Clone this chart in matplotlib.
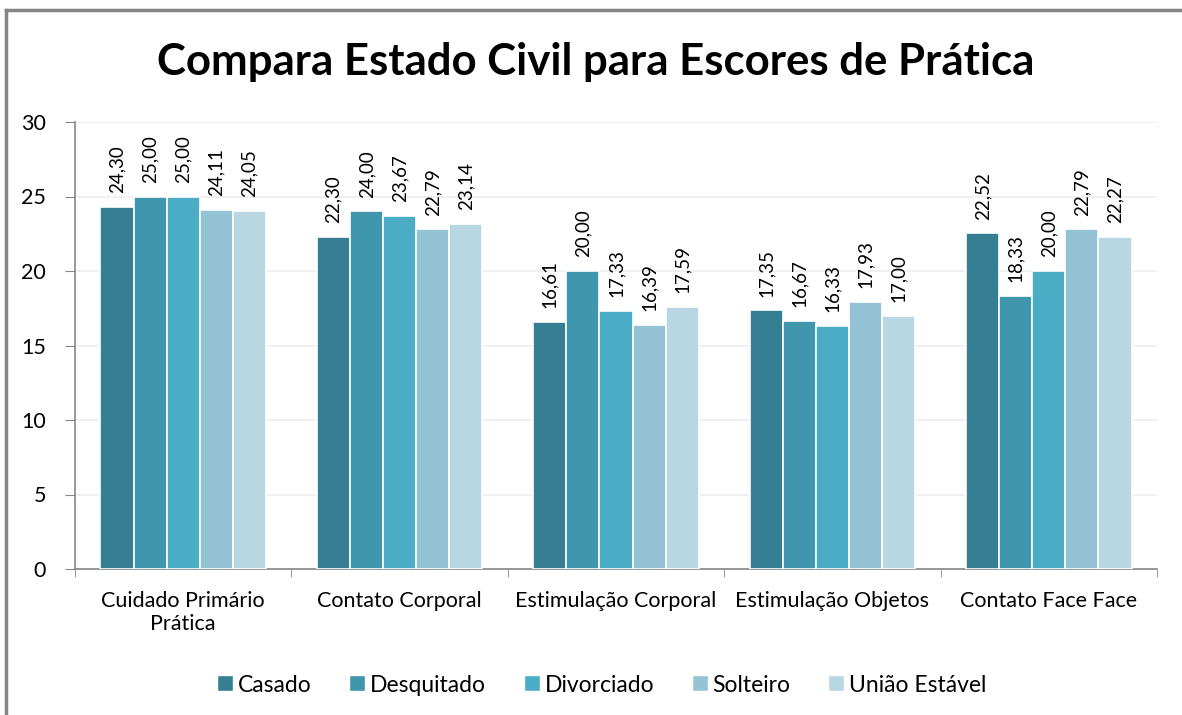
import matplotlib
matplotlib.use("Agg")
import matplotlib.pyplot as plt
import numpy as np
from matplotlib.lines import Line2D

categories = ["Cuidado Primário\nPrática", "Contato Corporal", "Estimulação Corporal",
              "Estimulação Objetos", "Contato Face Face"]
series_names = ["Casado", "Desquitado", "Divorciado", "Solteiro", "União Estável"]
casado = [24.30, 22.30, 16.61, 17.35, 22.52]
desquitado = [25.00, 24.00, 20.00, 16.67, 18.33]
divorciado = [25.00, 23.67, 17.33, 16.33, 20.00]
solteiro = [24.11, 22.79, 16.39, 17.93, 22.79]
uniao = [24.05, 23.14, 17.59, 17.00, 22.27]
colors = ["#367F93", "#4096AC", "#4BACC6", "#93C3D4", "#B8D7E2"]
title = "Compara Estado Civil para Escores de Prática"

plt.rcParams['font.family'] = ['Lato', 'DejaVu Sans']

fig = plt.figure(figsize=(11.82, 7.15), dpi=100)
ax = fig.add_axes([75/1182, 1-569/715, (1157-75)/1182, (569-122)/715])

data = [casado, desquitado, divorciado, solteiro, uniao]
x = np.arange(len(categories))
bw = 0.153
for i, (vals, name, c) in enumerate(zip(data, series_names, colors)):
    xs = x + (i - 2) * bw
    bars = ax.bar(xs, vals, width=bw, color=c, edgecolor="white", linewidth=1.2,
                  label=name, zorder=3)
    for xi, v in zip(xs, vals):
        ax.annotate(f"{v:.2f}".replace(".", ","), (xi, v), xytext=(0, 10),
                    textcoords="offset points", rotation=90, ha="center", va="bottom",
                    fontsize=13.5, color="black")

ax.set_xlim(-0.5, len(categories) - 0.5)
ax.set_ylim(0, 30)
ax.set_yticks(range(0, 31, 5))
ax.tick_params(axis="y", labelsize=15.5, length=7, color="#868686", direction="out", pad=14)
ax.grid(axis="y", color="#EDEDED", linewidth=1.2, zorder=0)
ax.set_axisbelow(True)
ax.set_xticks(x)
ax.set_xticklabels(categories, fontsize=15.5, linespacing=1.15)
ax.tick_params(axis="x", length=0, pad=16)
ax.set_xticks(np.arange(-0.5, len(categories)), minor=True)
ax.tick_params(axis="x", which="minor", length=6, color="#868686")
for s in ["top", "right"]:
    ax.spines[s].set_visible(False)
for s in ["left", "bottom"]:
    ax.spines[s].set_color("#868686")
    ax.spines[s].set_linewidth(1.2)

fig.text(596/1182, 1-62/715, title, ha="center", va="center", fontsize=31.5,
         fontweight="bold")

handles = [Line2D([], [], marker="s", linestyle="none", markersize=11,
                  markerfacecolor=c, markeredgecolor="white") for c in colors]
fig.legend(handles, series_names, loc="center", bbox_to_anchor=(600/1182, 1-685/715),
           ncol=5, frameon=False, fontsize=16.5, handletextpad=0.05, columnspacing=1.5,
           handlelength=1.0)

fig.add_artist(Line2D([6/1182, 6/1182], [0, 1-10/715], transform=fig.transFigure,
                      color="#868686", linewidth=2.5))
fig.add_artist(Line2D([6/1182, 1], [1-10/715, 1-10/715], transform=fig.transFigure,
                      color="#868686", linewidth=2.5))

fig.savefig("out.png", dpi=100)
